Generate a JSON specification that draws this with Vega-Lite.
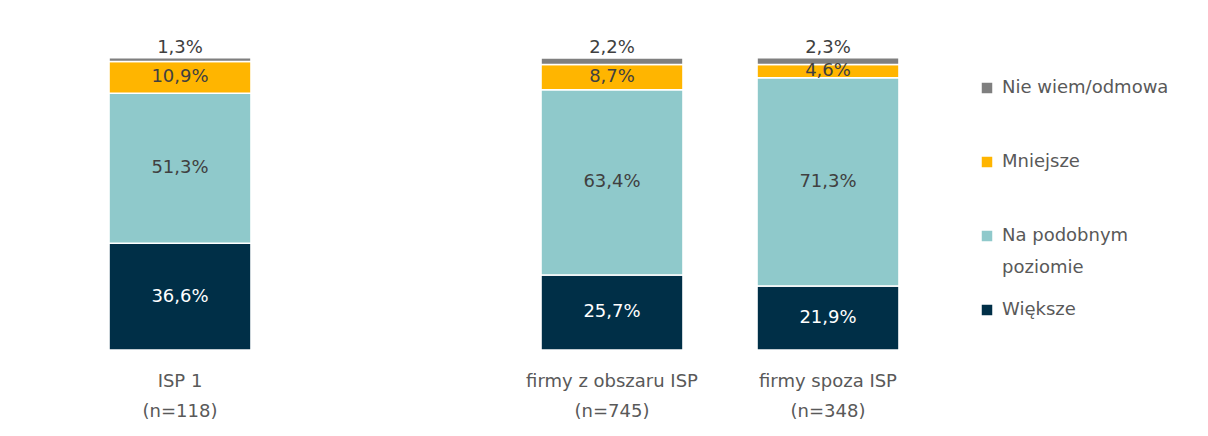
{
  "$schema": "https://vega.github.io/schema/vega-lite/v6.json",
  "width": 864,
  "height": 292,
  "autosize": {"type": "none"},
  "padding": {"left": 72, "top": 58, "right": 272, "bottom": 86},
  "background": "white",
  "config": {
    "view": {"stroke": null},
    "font": "DejaVu Sans",
    "style": {"guide-label": {"lineHeight": 32}}
  },
  "data": {
    "values": [
      {"group": "ISP 1|(n=118)", "cat": "Większe", "ord": 1, "value": 36.6},
      {"group": "ISP 1|(n=118)", "cat": "Na podobnym poziomie", "ord": 2, "value": 51.3},
      {"group": "ISP 1|(n=118)", "cat": "Mniejsze", "ord": 3, "value": 10.9},
      {"group": "ISP 1|(n=118)", "cat": "Nie wiem/odmowa", "ord": 4, "value": 1.3},
      {"group": "firmy z obszaru ISP|(n=745)", "cat": "Większe", "ord": 1, "value": 25.7},
      {"group": "firmy z obszaru ISP|(n=745)", "cat": "Na podobnym poziomie", "ord": 2, "value": 63.4},
      {"group": "firmy z obszaru ISP|(n=745)", "cat": "Mniejsze", "ord": 3, "value": 8.7},
      {"group": "firmy z obszaru ISP|(n=745)", "cat": "Nie wiem/odmowa", "ord": 4, "value": 2.2},
      {"group": "firmy spoza ISP|(n=348)", "cat": "Większe", "ord": 1, "value": 21.9},
      {"group": "firmy spoza ISP|(n=348)", "cat": "Na podobnym poziomie", "ord": 2, "value": 71.3},
      {"group": "firmy spoza ISP|(n=348)", "cat": "Mniejsze", "ord": 3, "value": 4.6},
      {"group": "firmy spoza ISP|(n=348)", "cat": "Nie wiem/odmowa", "ord": 4, "value": 2.3}
    ]
  },
  "transform": [
    {"stack": "value", "groupby": ["group"], "sort": [{"field": "ord", "order": "ascending"}], "as": ["v0", "v1"]},
    {"calculate": "(datum.v0 + datum.v1) / 2", "as": "mid"},
    {"calculate": "replace(format(datum.value, '.1f'), '.', ',') + '%'", "as": "lbl"}
  ],
  "encoding": {
    "x": {
      "field": "group",
      "type": "nominal",
      "sort": null,
      "scale": {
        "domain": ["ISP 1|(n=118)", " ", "firmy z obszaru ISP|(n=745)", "firmy spoza ISP|(n=348)"],
        "paddingInner": 0.343,
        "paddingOuter": 0.1715
      },
      "axis": {
        "title": null,
        "labelAngle": 0,
        "domain": false,
        "ticks": false,
        "labelExpr": "datum.label == ' ' ? '' : split(datum.label, '|')",
        "labelFont": "DejaVu Sans",
        "labelFontSize": 18,
        "labelColor": "#595959",
        "labelPadding": 22,
        "labelLineHeight": 30,
        "labelLimit": 300
      }
    }
  },
  "layer": [
    {
      "mark": {"type": "bar", "stroke": "white", "strokeWidth": 1.5},
      "encoding": {
        "y": {"field": "v0", "type": "quantitative", "scale": {"domain": [0, 100], "nice": false}, "axis": null},
        "y2": {"field": "v1"},
        "color": {
          "field": "cat",
          "type": "nominal",
          "scale": {
            "domain": ["Nie wiem/odmowa", "Mniejsze", "Na podobnym poziomie", "Większe"],
            "range": ["#7F7F7F", "#FFB500", "#8FC9CB", "#002F47"]
          },
          "legend": {
            "title": null,
            "orient": "none",
            "legendX": 906,
            "legendY": 21,
            "symbolType": "square",
            "symbolSize": 110,
            "symbolStrokeWidth": 0,
            "labelFont": "DejaVu Sans",
            "labelFontSize": 18,
            "labelColor": "#595959",
            "labelLimit": 300,
            "labelOffset": 6,
            "rowPadding": 24,
            "labelExpr": "datum.label == 'Na podobnym poziomie' ? ['Na podobnym', 'poziomie'] : [datum.label, ' ']"
          }
        }
      }
    },
    {
      "transform": [{"filter": "datum.cat != 'Nie wiem/odmowa'"}],
      "mark": {"type": "text", "fontSize": 18, "font": "DejaVu Sans", "baseline": "middle"},
      "encoding": {
        "y": {"field": "mid", "type": "quantitative", "scale": {"domain": [0, 100], "nice": false}},
        "text": {"field": "lbl"},
        "color": {
          "condition": {"test": "datum.cat == 'Większe'", "value": "white"},
          "value": "#404040"
        }
      }
    },
    {
      "transform": [{"filter": "datum.cat == 'Nie wiem/odmowa'"}],
      "mark": {"type": "text", "fontSize": 18, "font": "DejaVu Sans", "baseline": "bottom", "dy": -1, "color": "#404040"},
      "encoding": {
        "y": {"field": "v1", "type": "quantitative", "scale": {"domain": [0, 100], "nice": false}},
        "text": {"field": "lbl"}
      }
    }
  ]
}
